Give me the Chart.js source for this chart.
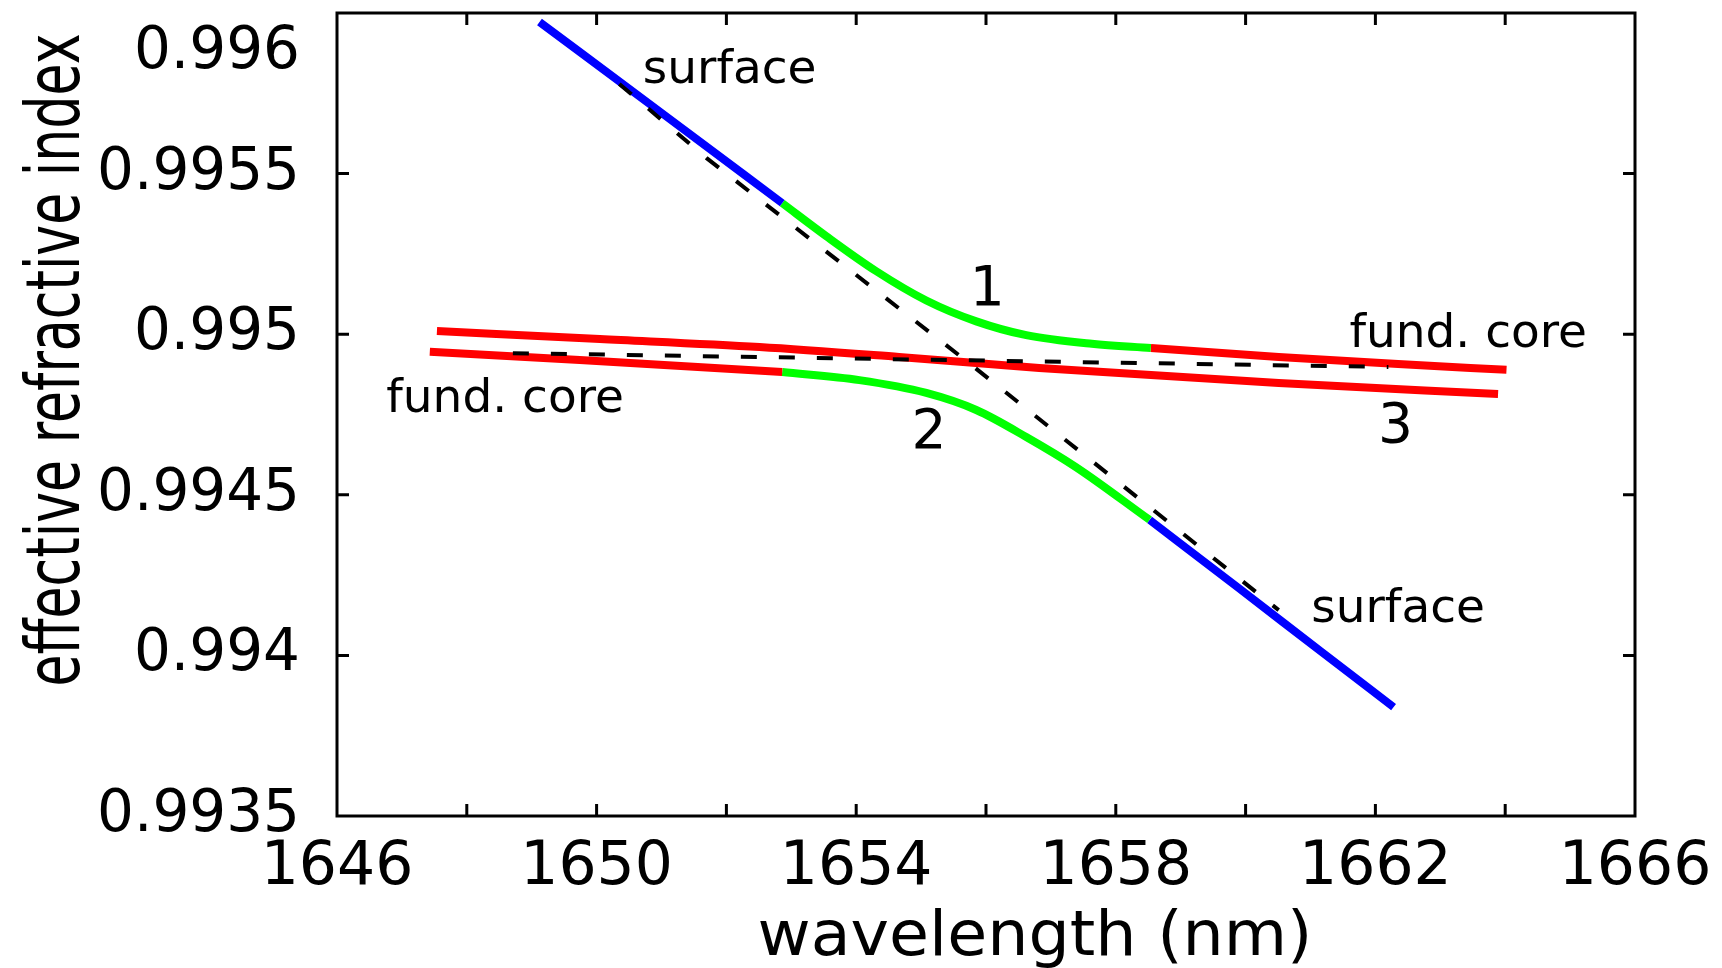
<!DOCTYPE html>
<html>
<head>
<meta charset="utf-8">
<script src="https://cdn.jsdelivr.net/npm/chart.js@4.4.1/dist/chart.umd.min.js"></script>
<style>
  html, body { margin: 0; padding: 0; background: #fff; }
  #wrap { width: 1722px; height: 968px; }
</style>
</head>
<body>
<div id="wrap"><canvas id="chart" width="1722" height="968"></canvas></div>
<script>
// wavelength (nm) / effective index

// branch 1 (upper): surface -> hybrid -> core
const b1BlueX = [1649.12, 1651.0, 1652.86];
const b1BlueY = [0.995972, 0.995689, 0.995408];
const b1GreenX = [1652.86, 1653.54, 1654.31, 1655.08, 1655.85, 1656.62, 1657.63, 1658.54];
const b1GreenY = [0.995408, 0.995305, 0.995196, 0.995105, 0.995040, 0.994997, 0.994970, 0.994957];
const b1RedX = [1658.54, 1660.51, 1662.35, 1664.02];
const b1RedY = [0.994957, 0.994929, 0.994907, 0.994889];

// branch 2 (lower): core -> hybrid -> surface
const b2RedX = [1647.43, 1649.74, 1652.86];
const b2RedY = [0.994945, 0.994920, 0.994882];
const b2GreenX = [1652.86, 1654.05, 1655.08, 1655.85, 1656.62, 1657.38, 1658.52];
const b2GreenY = [0.994882, 0.994857, 0.994817, 0.994764, 0.994680, 0.994587, 0.994422];
const b2BlueX = [1658.52, 1659.89, 1661.17, 1662.28];
const b2BlueY = [0.994422, 0.994210, 0.994011, 0.993839];

// mode 3 (crosses straight through)
const m3X = [1647.54, 1650.05, 1652.51, 1654.66, 1656.82, 1660.51, 1663.89];
const m3Y = [0.995010, 0.994985, 0.994960, 0.994929, 0.994895, 0.994848, 0.994814];

// uncoupled modes (dashed)
const coreX = [1648.71, 1662.20];
const coreY = [0.994941, 0.994898];
const surfX = [1650.35, 1651.69, 1655.74, 1660.51];
const surfY = [0.995779, 0.995549, 0.994910, 0.994141];

const xTickLabels = ['1646', '1650', '1654', '1658', '1662', '1666'];
const yTickLabels = ['0.9935', '0.994', '0.9945', '0.995', '0.9955', '0.996'];
const xTitle = 'wavelength (nm)';
const yTitle = 'effective refractive index';

const noteText = ['surface', '1', 'fund. core', 'fund. core', '2', '3', 'surface'];
const noteX = [1652.05, 1656.02, 1663.43, 1648.59, 1655.12, 1662.31, 1662.35];
const noteY = [0.995782, 0.995091, 0.994960, 0.994758, 0.994646, 0.994664, 0.994104];

const toPts = (xs, ys) => xs.map((x, i) => ({ x: x, y: ys[i] }));

function solid(xs, ys, color) {
  return {
    data: toPts(xs, ys),
    showLine: true,
    borderColor: color,
    borderWidth: 8,
    pointRadius: 0,
    cubicInterpolationMode: 'monotone',
    order: 1
  };
}

function dashed(xs, ys) {
  return {
    data: toPts(xs, ys),
    showLine: true,
    borderColor: '#000',
    borderWidth: 4,
    borderDash: [16, 22],
    pointRadius: 0,
    order: 0
  };
}

function fitText(ctx, text, x, y, size, width, angle) {
  ctx.save();
  ctx.translate(x, y);
  ctx.rotate(angle);
  ctx.font = size + 'px "DejaVu Sans"';
  const w = ctx.measureText(text).width;
  ctx.scale(width / w, 1);
  ctx.textAlign = 'center';
  ctx.textBaseline = 'alphabetic';
  ctx.fillText(text, 0, 0);
  ctx.restore();
}

const isTop = (v) => Math.abs(v - +yTickLabels[yTickLabels.length - 1]) < 1e-7;

const frame = {
  id: 'frame',
  afterDatasetsDraw(chart) {
    const ctx = chart.ctx;
    const a = chart.chartArea;
    const xs = chart.scales.x, ys = chart.scales.y;
    const tl = 12;
    ctx.save();
    ctx.strokeStyle = '#000';
    ctx.lineWidth = 3;
    ctx.strokeRect(a.left, a.top, a.right - a.left, a.bottom - a.top);
    ctx.beginPath();
    xs.ticks.forEach(t => {
      if (t.value <= xs.min || t.value >= xs.max) return;
      const px = xs.getPixelForValue(t.value);
      ctx.moveTo(px, a.bottom); ctx.lineTo(px, a.bottom - tl);
      ctx.moveTo(px, a.top); ctx.lineTo(px, a.top + tl);
    });
    ys.ticks.forEach(t => {
      if (t.value <= ys.min + 1e-9 || t.value >= ys.max - 1e-9) return;
      const py = ys.getPixelForValue(t.value);
      ctx.moveTo(a.left, py); ctx.lineTo(a.left + tl, py);
      ctx.moveTo(a.right, py); ctx.lineTo(a.right - tl, py);
    });
    ctx.stroke();

    // top y label sits lower so it is not cut by the page edge
    ctx.fillStyle = '#000';
    ctx.font = '58px "DejaVu Sans"';
    ctx.textAlign = 'right';
    ctx.textBaseline = 'middle';
    ctx.fillText(yTickLabels[yTickLabels.length - 1], a.left - 37, a.top + 40);

    // text labels on the curves
    ctx.textAlign = 'center';
    ctx.textBaseline = 'alphabetic';
    noteText.forEach((t, i) => {
      ctx.font = (t.length === 1 ? 55 : 47) + 'px "DejaVu Sans"';
      ctx.fillText(t, xs.getPixelForValue(noteX[i]), ys.getPixelForValue(noteY[i]));
    });

    // axis titles
    fitText(ctx, yTitle, 79, 360, 74, 653, -Math.PI / 2);
    fitText(ctx, xTitle, 1035, 955, 62, 555, 0);
    ctx.restore();
  }
};

Chart.defaults.font.family = '"DejaVu Sans"';
Chart.defaults.color = '#000';

new Chart(document.getElementById('chart'), {
  type: 'scatter',
  data: {
    datasets: [
      dashed(coreX, coreY),
      dashed(surfX, surfY),
      solid(b1BlueX, b1BlueY, '#0000ff'),
      solid(b1GreenX, b1GreenY, '#00ff00'),
      solid(b1RedX, b1RedY, '#ff0000'),
      solid(b2RedX, b2RedY, '#ff0000'),
      solid(b2GreenX, b2GreenY, '#00ff00'),
      solid(b2BlueX, b2BlueY, '#0000ff'),
      solid(m3X, m3Y, '#ff0000')
    ]
  },
  options: {
    responsive: false,
    animation: false,
    devicePixelRatio: 1,
    layout: { padding: { left: 0, right: 87, top: 13, bottom: 0 } },
    plugins: { legend: { display: false }, tooltip: { enabled: false } },
    scales: {
      x: {
        type: 'linear',
        min: 1646,
        max: 1666,
        grid: { display: false, drawTicks: false },
        border: { display: false },
        ticks: {
          stepSize: 2,
          autoSkip: false,
          maxRotation: 0,
          padding: 16,
          font: { size: 60 },
          callback: (v) => xTickLabels.find(t => Math.abs(+t - v) < 1e-6) || ''
        },
        afterFit: (s) => { s.height = 152; s.paddingLeft = 0; s.paddingRight = 0; }
      },
      y: {
        type: 'linear',
        min: 0.9935,
        max: 0.996,
        grid: { display: false, drawTicks: false },
        border: { display: false },
        ticks: {
          stepSize: 0.0005,
          autoSkip: false,
          padding: 37,
          font: { size: 58 },
          callback: (v) => isTop(v) ? '' : (yTickLabels.find(t => Math.abs(+t - v) < 1e-7) || '')
        },
        afterFit: (s) => { s.width = 337; s.paddingTop = 0; s.paddingBottom = 0; }
      }
    }
  },
  plugins: [frame]
});
</script>
</body>
</html>
